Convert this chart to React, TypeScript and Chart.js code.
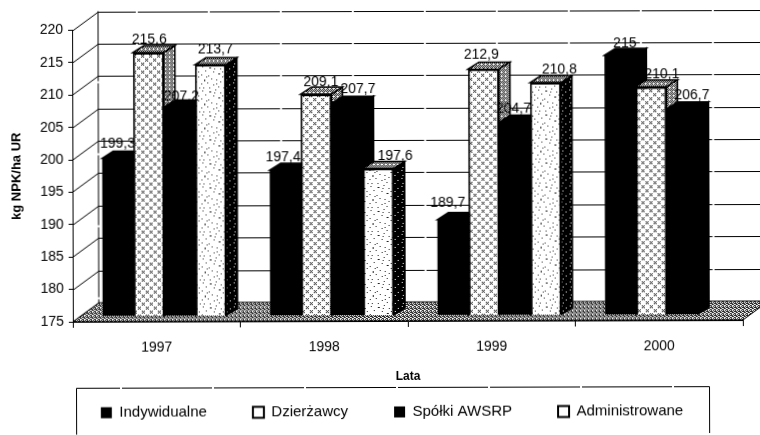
import React, { useEffect, useRef } from "react";
import { Chart, registerables } from "chart.js";

Chart.register(...registerables);

const years = ["1997", "1998", "1999", "2000"];
const indywidualne = [199.3, 197.4, 189.7, 215];
const dzierzawcy = [215.6, 209.1, 212.9, 210.1];
const spolki = [207.2, 207.7, 204.7, 206.7];
const administrowane = [213.7, 197.6, 210.8, null];
const yTicksMin = 175;
const yTicksMax = 220;
const seriesNames = ["Indywidualne", "Dzierżawcy", "Spółki AWSRP", "Administrowane"];

// Label nudges as hand placed in the source chart [dx, dy] per series, per year
const labelNudge = [
  [[0, 0], [-2, 1], [-5, -3], [5, 2]],
  [[1, 1], [5, 2], [-2, 0], [11, 2]],
  [[2, 4], [11, 0], [-1, 1], [10, 0]],
  [[5, -1], [17, 2], [14, 1], [0, 0]],
];

const FONT = "'Liberation Sans', Arial, sans-serif";
const DEPTH_X = 26; // wall depth
const DEPTH_Y = 19;
const BAR_OFF_X = 8; // bars stand inside the floor
const BAR_OFF_Y = 6;
const SIDE_X = 11; // bar depth
const SIDE_Y = 7;

function tile(size: number, bg: string, fg: string, dots: number[][]) {
  const c = document.createElement("canvas");
  c.width = size;
  c.height = size;
  const x = c.getContext("2d")!;
  x.fillStyle = bg;
  x.fillRect(0, 0, size, size);
  x.fillStyle = fg;
  dots.forEach(([a, b]) => x.fillRect(a, b, 1, 1));
  return x.createPattern(c, "repeat")!;
}

const latticeDots = [[1, 1], [3, 1], [2, 2], [1, 3], [3, 3], [5, 5], [7, 5], [6, 6], [5, 7], [7, 7]];
const speckDots = [[2, 1], [9, 2], [10, 2], [15, 0], [20, 3], [5, 5], [13, 6], [18, 8], [19, 8], [1, 9], [8, 10], [22, 11], [11, 13], [16, 14], [4, 14], [4, 15], [20, 16], [7, 17], [1, 18], [13, 19], [18, 21], [9, 22], [3, 22], [23, 22], [14, 3], [6, 11], [16, 18], [22, 6]];
const denseDots = [[0, 0], [2, 0], [1, 1], [3, 1], [0, 2], [2, 2], [3, 3]];
const floorDots = [[0, 0], [2, 0], [1, 1], [3, 1], [0, 2], [3, 2], [1, 3], [2, 3], [2, 1]];
const sideSpecks = [[1, 1], [5, 3], [2, 6], [6, 8], [3, 10]];

const decor3d = {
  id: "decor3d",
  beforeLayout(chart: any) {
    const l = chart.legend;
    if (l && !l.__fitted) {
      const fit = l.fit;
      l.fit = function () {
        fit.call(this);
        this.height = 47;
      };
      l.__fitted = true;
    }
  },
  afterLayout(chart: any) {
    const l = chart.legend;
    if (!l) return;
    l.left = 12;
    l.right = 770;
    l.top = 359.5;
  },
  beforeDatasetsDraw(chart: any) {
    const { ctx, chartArea, scales } = chart;
    const { left, right, bottom } = chartArea;
    const y = scales.y;
    const W = chart.width;
    ctx.save();
    // walls
    ctx.strokeStyle = "#000";
    ctx.lineWidth = 1;
    ctx.setLineDash([70, 2]);
    ctx.beginPath();
    y.ticks.forEach((t: any) => {
      const p = Math.round(y.getPixelForValue(t.value)) + 0.5;
      ctx.moveTo(left, p);
      ctx.lineTo(left + DEPTH_X, p - DEPTH_Y);
      if (t.value !== yTicksMin) ctx.lineTo(W, p - DEPTH_Y);
    });
    ctx.moveTo(left + DEPTH_X, chartArea.top - DEPTH_Y);
    ctx.lineTo(left + DEPTH_X, bottom - DEPTH_Y);
    ctx.stroke();
    ctx.setLineDash([]);
    // floor
    ctx.beginPath();
    ctx.moveTo(left, bottom);
    ctx.lineTo(right, bottom);
    ctx.lineTo(right + DEPTH_X, bottom - DEPTH_Y);
    ctx.lineTo(left + DEPTH_X, bottom - DEPTH_Y);
    ctx.closePath();
    ctx.fillStyle = tile(4, "#ffffff", "#222222", floorDots);
    ctx.fill();
    ctx.stroke();
    // bar top and side faces, left to right
    ctx.translate(BAR_OFF_X, -BAR_OFF_Y);
    ctx.lineWidth = 1.5;
    chart.data.datasets.forEach((ds: any, d: number) => {
      chart.getDatasetMeta(d).data.forEach((el: any, i: number) => {
        if (ds.data[i] == null) return;
        const x0 = el.x - el.width / 2;
        const x1 = el.x + el.width / 2;
        const top = el.y;
        ctx.beginPath();
        ctx.moveTo(x0, top);
        ctx.lineTo(x0 + SIDE_X, top - SIDE_Y);
        ctx.lineTo(x1 + SIDE_X, top - SIDE_Y);
        ctx.lineTo(x1, top);
        ctx.closePath();
        ctx.fillStyle = ds.topFill;
        ctx.fill();
        ctx.stroke();
        ctx.beginPath();
        ctx.moveTo(x1, top);
        ctx.lineTo(x1 + SIDE_X, top - SIDE_Y);
        ctx.lineTo(x1 + SIDE_X, bottom - SIDE_Y);
        ctx.lineTo(x1, bottom);
        ctx.closePath();
        ctx.fillStyle = ds.sideFill;
        ctx.fill();
        ctx.stroke();
      });
    });
    ctx.restore();
  },
  beforeDatasetDraw(chart: any) {
    chart.ctx.save();
    chart.ctx.translate(BAR_OFF_X, -BAR_OFF_Y);
  },
  afterDatasetDraw(chart: any) {
    chart.ctx.restore();
  },
  afterDraw(chart: any) {
    const { ctx } = chart;
    ctx.save();
    // value labels
    ctx.fillStyle = "#000";
    ctx.font = `14px ${FONT}`;
    ctx.textAlign = "center";
    ctx.textBaseline = "middle";
    chart.data.datasets.forEach((ds: any, d: number) => {
      const meta = chart.getDatasetMeta(d);
      meta.data.forEach((el: any, i: number) => {
        const v = ds.data[i];
        if (v == null) return;
        const [nx, ny] = labelNudge[d][i];
        ctx.fillText(String(v).replace(".", ","), el.x + BAR_OFF_X + nx, el.y - BAR_OFF_Y - 14 + ny);
      });
    });
    // legend frame, open at the bottom where the page was cut
    ctx.strokeStyle = "#000";
    ctx.lineWidth = 1;
    ctx.setLineDash([90, 2]);
    ctx.beginPath();
    ctx.moveTo(75.5, 435);
    ctx.lineTo(75.5, 388.5);
    ctx.lineTo(708.5, 388.5);
    ctx.lineTo(708.5, 435);
    ctx.stroke();
    ctx.restore();
  },
};

export default function App() {
  const ref = useRef<HTMLCanvasElement | null>(null);
  useEffect(() => {
    document.body.style.margin = "0";
    document.body.style.background = "#fff";
    const lattice = tile(8, "#ffffff", "#111111", latticeDots);
    const specks = tile(24, "#ffffff", "#222222", speckDots);
    const dense = tile(4, "#ffffff", "#000000", denseDots);
    const blackSpeck = tile(8, "#000000", "#ffffff", sideSpecks);
    const chart = new Chart(ref.current!, {
      type: "bar",
      data: {
        labels: years,
        datasets: [
          { label: seriesNames[0], data: indywidualne, backgroundColor: "#000", borderColor: "#000", borderWidth: 0, topFill: "#000", sideFill: "#000" },
          { label: seriesNames[1], data: dzierzawcy, backgroundColor: lattice, borderColor: "#000", borderWidth: 2, topFill: dense, sideFill: dense },
          { label: seriesNames[2], data: spolki, backgroundColor: "#000", borderColor: "#000", borderWidth: 0, topFill: "#000", sideFill: "#000" },
          { label: seriesNames[3], data: administrowane, backgroundColor: specks, borderColor: "#000", borderWidth: 2, topFill: dense, sideFill: blackSpeck },
        ] as any,
      },
      plugins: [decor3d],
      options: {
        animation: false,
        responsive: false,
        devicePixelRatio: 1,
        layout: { autoPadding: false, padding: { left: 0, right: 18, top: 30.5, bottom: 0 } },
        datasets: { bar: { categoryPercentage: 0.74, barPercentage: 1 } },
        plugins: {
          tooltip: { enabled: false },
          legend: {
            position: "bottom",
            labels: {
              boxWidth: 11,
              boxHeight: 11,
              padding: 46,
              color: "#000",
              font: { family: FONT, size: 15 },
              generateLabels(chart: any) {
                return (Chart.defaults.plugins.legend.labels as any).generateLabels(chart).map((it: any) => ({
                  ...it,
                  fillStyle: typeof it.fillStyle === "string" ? it.fillStyle : "#ffffff",
                }));
              },
            },
          },
        },
        scales: {
          x: {
            grid: { drawOnChartArea: false, drawTicks: true, tickLength: 6, color: "#000", offset: true },
            border: { color: "#000", display: true },
            ticks: { color: "#000", padding: 12, font: { family: FONT, size: 14 }, maxRotation: 0 },
            title: { display: true, text: "Lata", color: "#000", padding: { top: 0, bottom: 3 }, font: { family: FONT, size: 12, weight: "bold" } },
            afterFit(s: any) {
              s.height = 66;
            },
          },
          y: {
            min: yTicksMin,
            max: yTicksMax,
            grid: { drawOnChartArea: false, drawTicks: true, tickLength: 4, color: "#000" },
            border: { color: "#000", display: true, dash: [9, 1] },
            ticks: { stepSize: 5, color: "#000", padding: 5, font: { family: FONT, size: 14 } },
            title: { display: true, text: "kg NPK/ha UR", color: "#000", padding: { top: 9, bottom: 0 }, font: { family: FONT, size: 13, weight: "bold" } },
            afterFit(s: any) {
              s.width = 72;
            },
          },
        },
      },
    } as any);
    return () => chart.destroy();
  }, []);
  return (
    <div style={{ position: "fixed", left: 0, top: 0, width: 760, height: 435, overflow: "hidden", background: "#fff" }}>
      <canvas
        ref={ref}
        width={760}
        height={435}
        style={{ display: "block", transformOrigin: "0 0", transform: "rotate(-0.15deg)" }}
      />
    </div>
  );
}
